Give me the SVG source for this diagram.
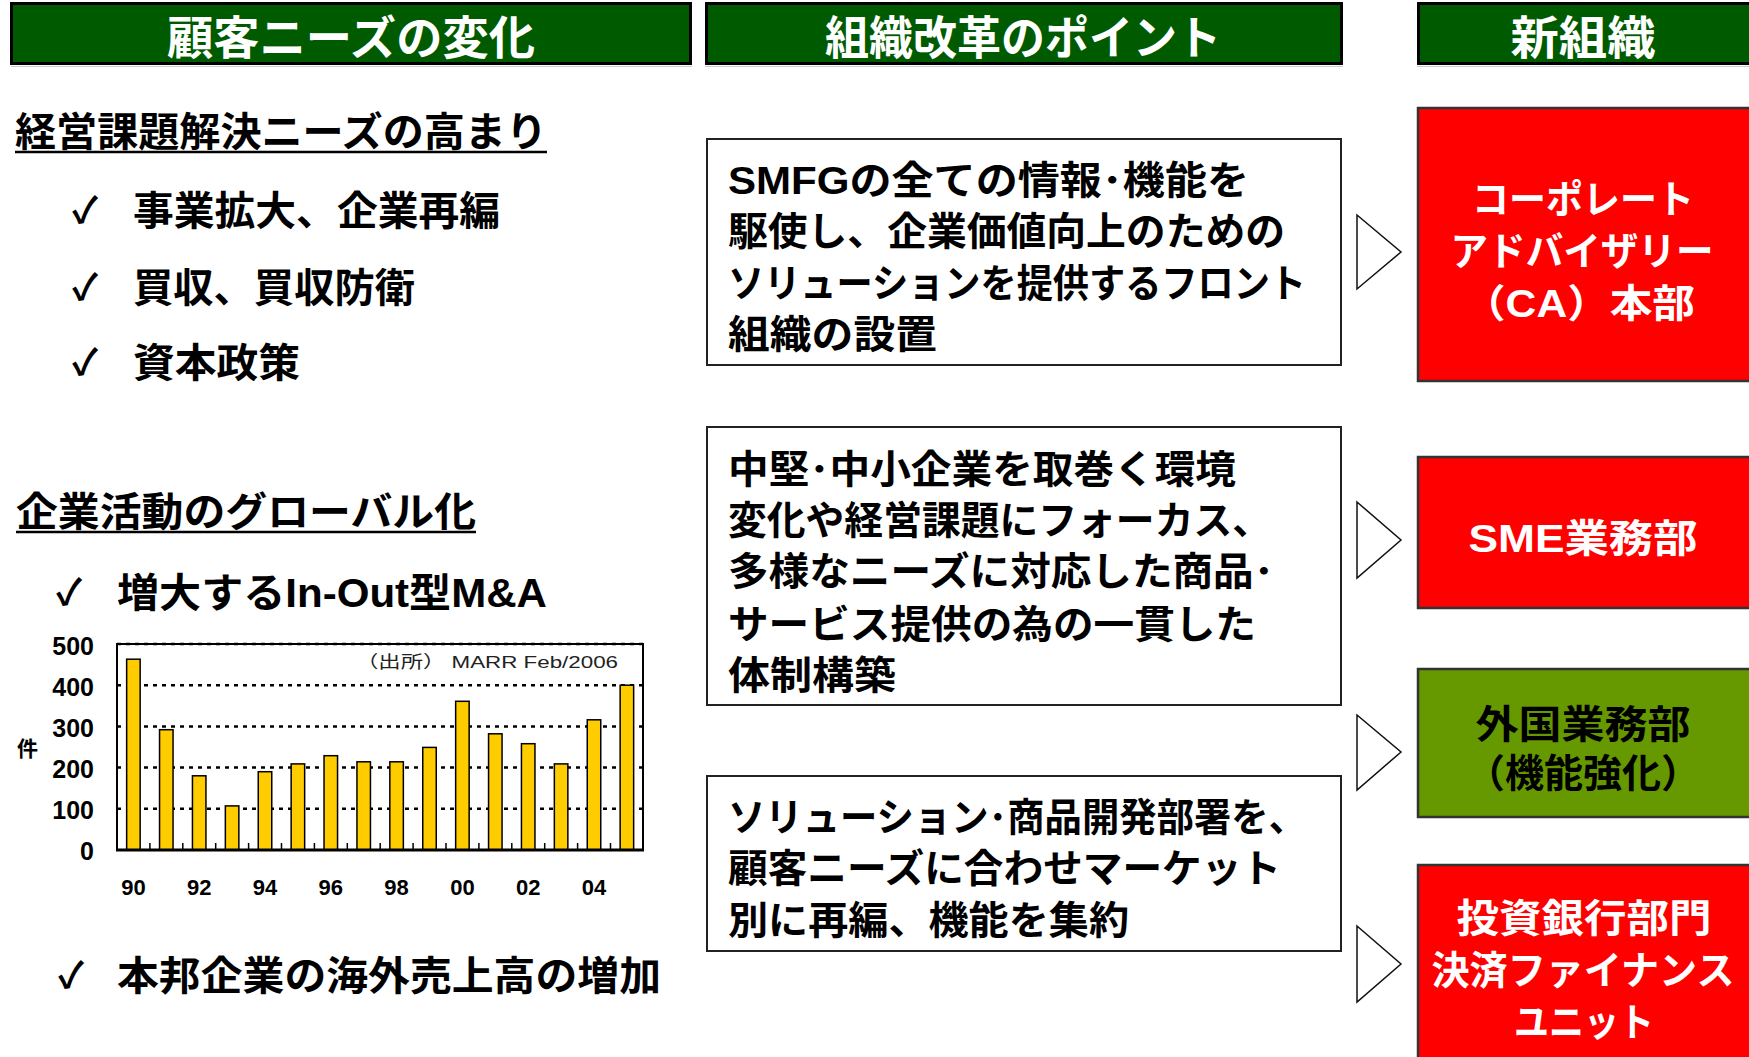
<svg xmlns="http://www.w3.org/2000/svg" width="1749" height="1057" viewBox="0 0 1749 1057">
<style>
.jp{font-family:"Liberation Sans","Noto Sans CJK JP",sans-serif;font-weight:bold}
.hd{fill:#005a00;stroke:#000;stroke-width:3}
.hdt{fill:#fff;font-size:46px;text-anchor:middle}
.lt{font-size:40px;fill:#000}
.ck{font-family:"Noto Sans CJK JP","DejaVu Sans",sans-serif;font-size:36px;font-weight:bold;fill:#000}
.box{fill:#fff;stroke:#222;stroke-width:2}
.mt{font-size:39px;fill:#000}
.red{fill:#ff0000;stroke:#333;stroke-width:2.5}
.grn{fill:#669900;stroke:#333;stroke-width:2.5}
.rt{font-size:39px;text-anchor:middle}
.chev{fill:#fff;stroke:#111;stroke-width:1.5}
.bar{fill:#ffcc00;stroke:#000;stroke-width:1.5}
.grid{stroke:#000;stroke-width:2.5;stroke-dasharray:4 5}
.ax{font-family:"Liberation Sans",sans-serif;font-weight:bold;fill:#000}
</style>

<g id="header-1">
<line x1="11" y1="66.5" x2="692" y2="66.5" stroke="#ccc" stroke-width="1"/>
<rect class="hd" x="11.5" y="3.5" width="679" height="60"/>
<text class="jp hdt" x="351" y="54" textLength="368" lengthAdjust="spacingAndGlyphs">顧客ニーズの変化</text>
</g>
<g id="header-2">
<line x1="705" y1="66.5" x2="1343" y2="66.5" stroke="#ccc" stroke-width="1"/>
<rect class="hd" x="706.5" y="3.5" width="635" height="60"/>
<text class="jp hdt" x="1023" y="54" textLength="396" lengthAdjust="spacingAndGlyphs">組織改革のポイント</text>
</g>
<g id="header-3">
<line x1="1417" y1="66.5" x2="1749" y2="66.5" stroke="#ccc" stroke-width="1"/>
<rect class="hd" x="1418.5" y="3.5" width="345" height="60"/>
<text class="jp hdt" x="1583" y="54" textLength="145" lengthAdjust="spacingAndGlyphs">新組織</text>
</g>

<g id="needs-management">
<text class="jp lt" x="15" y="146" textLength="532" lengthAdjust="spacingAndGlyphs">経営課題解決ニーズの高まり</text>
<line x1="15" y1="152" x2="547" y2="152" stroke="#000" stroke-width="2.5"/>
<text class="ck" x="72" y="223">✓</text>
<text class="jp lt" x="133" y="225" textLength="367" lengthAdjust="spacingAndGlyphs">事業拡大、企業再編</text>
<text class="ck" x="72" y="300">✓</text>
<text class="jp lt" x="133" y="302" textLength="282" lengthAdjust="spacingAndGlyphs">買収、買収防衛</text>
<text class="ck" x="72" y="375">✓</text>
<text class="jp lt" x="133" y="377" textLength="167" lengthAdjust="spacingAndGlyphs">資本政策</text>
</g>

<g id="needs-global">
<text class="jp lt" x="16" y="526" textLength="460" lengthAdjust="spacingAndGlyphs">企業活動のグローバル化</text>
<line x1="16" y1="532" x2="476" y2="532" stroke="#000" stroke-width="2.5"/>
<text class="ck" x="56" y="605">✓</text>
<text class="jp lt" x="117" y="607" textLength="430" lengthAdjust="spacingAndGlyphs">増大するIn-Out型M&amp;A</text>
<text class="ck" x="58" y="988">✓</text>
<text class="jp lt" x="117" y="990" textLength="544" lengthAdjust="spacingAndGlyphs">本邦企業の海外売上高の増加</text>
</g>

<g id="chart">
<rect x="117" y="644" width="526" height="206" fill="#fff" stroke="#000" stroke-width="2"/>
<line class="grid" x1="117" y1="644" x2="643" y2="644"/>
<line class="grid" x1="117" y1="685.2" x2="643" y2="685.2"/>
<line class="grid" x1="117" y1="726.4" x2="643" y2="726.4"/>
<line class="grid" x1="117" y1="767.6" x2="643" y2="767.6"/>
<line class="grid" x1="117" y1="808.8" x2="643" y2="808.8"/>
<rect class="bar" x="126.65" y="659.2" width="13.5" height="190.8"/>
<rect class="bar" x="159.55" y="729.7" width="13.5" height="120.3"/>
<rect class="bar" x="192.45" y="775.8" width="13.5" height="74.2"/>
<rect class="bar" x="225.35" y="805.9" width="13.5" height="44.1"/>
<rect class="bar" x="258.25" y="771.7" width="13.5" height="78.3"/>
<rect class="bar" x="291.15" y="763.9" width="13.5" height="86.1"/>
<rect class="bar" x="324.05" y="755.7" width="13.5" height="94.3"/>
<rect class="bar" x="356.95" y="761.8" width="13.5" height="88.2"/>
<rect class="bar" x="389.85" y="761.8" width="13.5" height="88.2"/>
<rect class="bar" x="422.75" y="747.4" width="13.5" height="102.6"/>
<rect class="bar" x="455.65" y="701.3" width="13.5" height="148.7"/>
<rect class="bar" x="488.55" y="733.8" width="13.5" height="116.2"/>
<rect class="bar" x="521.45" y="743.7" width="13.5" height="106.3"/>
<rect class="bar" x="554.35" y="763.9" width="13.5" height="86.1"/>
<rect class="bar" x="587.25" y="719.8" width="13.5" height="130.2"/>
<rect class="bar" x="620.15" y="685.2" width="13.5" height="164.8"/>
<path d="M149.9 850V843M182.8 850V843M215.7 850V843M248.6 850V843M281.5 850V843M314.4 850V843M347.3 850V843M380.2 850V843M413.1 850V843M446 850V843M478.9 850V843M511.8 850V843M544.7 850V843M577.6 850V843M610.5 850V843" stroke="#000" stroke-width="1.5"/>
<line x1="116" y1="850" x2="644" y2="850" stroke="#000" stroke-width="3"/>
<g class="ax" font-size="25" text-anchor="end">
<text x="94" y="655">500</text>
<text x="94" y="696">400</text>
<text x="94" y="737">300</text>
<text x="94" y="778">200</text>
<text x="94" y="819">100</text>
<text x="94" y="860">0</text>
</g>
<text class="jp" x="17" y="756" font-size="21" fill="#000">件</text>
<g class="ax" font-size="22" text-anchor="middle">
<text x="133.4" y="895">90</text>
<text x="199.2" y="895">92</text>
<text x="265" y="895">94</text>
<text x="330.8" y="895">96</text>
<text x="396.6" y="895">98</text>
<text x="462.4" y="895">00</text>
<text x="528.2" y="895">02</text>
<text x="594" y="895">04</text>
</g>
<text x="356" y="668" font-family="'Liberation Sans','Noto Sans CJK JP',sans-serif" font-size="17" fill="#222" textLength="262" lengthAdjust="spacingAndGlyphs">（出所） MARR  Feb/2006</text>
</g>

<g id="point-1">
<rect class="box" x="707" y="139" width="634" height="226"/>
<text class="jp mt" x="728" y="194" textLength="521" lengthAdjust="spacingAndGlyphs">SMFGの全ての情報･機能を</text>
<text class="jp mt" x="728" y="245" textLength="557" lengthAdjust="spacingAndGlyphs">駆使し、企業価値向上のための</text>
<text class="jp mt" x="728" y="297" textLength="578" lengthAdjust="spacingAndGlyphs">ソリューションを提供するフロント</text>
<text class="jp mt" x="728" y="348" textLength="209" lengthAdjust="spacingAndGlyphs">組織の設置</text>
</g>
<g id="point-2">
<rect class="box" x="707" y="427" width="634" height="278"/>
<text class="jp mt" x="728" y="483" textLength="508" lengthAdjust="spacingAndGlyphs">中堅･中小企業を取巻く環境</text>
<text class="jp mt" x="728" y="534" textLength="543" lengthAdjust="spacingAndGlyphs">変化や経営課題にフォーカス、</text>
<text class="jp mt" x="728" y="585" textLength="546" lengthAdjust="spacingAndGlyphs">多様なニーズに対応した商品･</text>
<text class="jp mt" x="728" y="638" textLength="528" lengthAdjust="spacingAndGlyphs">サービス提供の為の一貫した</text>
<text class="jp mt" x="728" y="689" textLength="168" lengthAdjust="spacingAndGlyphs">体制構築</text>
</g>
<g id="point-3">
<rect class="box" x="707" y="776" width="634" height="175"/>
<text class="jp mt" x="728" y="831" textLength="578" lengthAdjust="spacingAndGlyphs">ソリューション･商品開発部署を、</text>
<text class="jp mt" x="728" y="882" textLength="553" lengthAdjust="spacingAndGlyphs">顧客ニーズに合わせマーケット</text>
<text class="jp mt" x="728" y="934" textLength="401" lengthAdjust="spacingAndGlyphs">別に再編、機能を集約</text>
</g>

<g id="org-ca">
<rect class="red" x="1418" y="108" width="345" height="273"/>
<text class="jp rt" x="1583" y="213" fill="#fff" textLength="222" lengthAdjust="spacingAndGlyphs">コーポレート</text>
<text class="jp rt" x="1582" y="265" fill="#fff" textLength="263" lengthAdjust="spacingAndGlyphs">アドバイザリー</text>
<text class="jp rt" x="1579" y="317" fill="#fff" textLength="232" lengthAdjust="spacingAndGlyphs">（CA）本部</text>
</g>
<g id="org-sme">
<rect class="red" x="1418" y="457" width="345" height="151"/>
<text class="jp rt" x="1583" y="552" fill="#fff" textLength="229" lengthAdjust="spacingAndGlyphs">SME業務部</text>
</g>
<g id="org-foreign">
<rect class="grn" x="1418" y="669" width="345" height="148"/>
<text class="jp rt" x="1583" y="738" fill="#000" textLength="215" lengthAdjust="spacingAndGlyphs">外国業務部</text>
<text class="jp rt" x="1583" y="787" fill="#000">（機能強化）</text>
</g>
<g id="org-ib">
<rect class="red" x="1418" y="865" width="345" height="210"/>
<text class="jp rt" x="1584" y="932" fill="#fff" textLength="255" lengthAdjust="spacingAndGlyphs">投資銀行部門</text>
<text class="jp rt" x="1583" y="984" fill="#fff" textLength="303" lengthAdjust="spacingAndGlyphs">決済ファイナンス</text>
<text class="jp rt" x="1584" y="1036" fill="#fff" textLength="140" lengthAdjust="spacingAndGlyphs">ユニット</text>
</g>

<g id="connectors">
<polygon class="chev" points="1357,215 1401,252 1357,289"/>
<polygon class="chev" points="1357,502 1401,540 1357,578"/>
<polygon class="chev" points="1357,715 1401,752 1357,790"/>
<polygon class="chev" points="1357,926 1401,964 1357,1002"/>
</g>
</svg>
